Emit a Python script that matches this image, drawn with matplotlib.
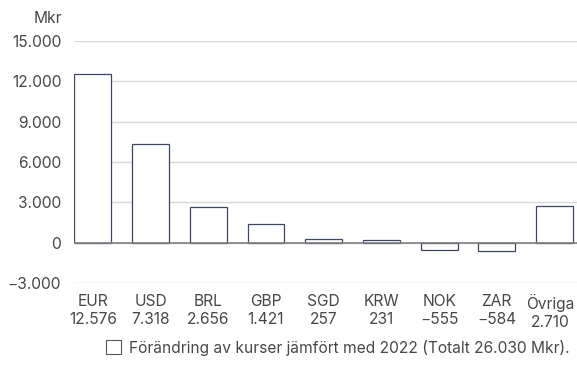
import matplotlib.pyplot as plt
import matplotlib.transforms as mtransforms
from matplotlib.patches import Patch

# Data
valutor = ["EUR", "USD", "BRL", "GBP", "SGD", "KRW", "NOK", "ZAR", "Övriga"]
belopp = [12576, 7318, 2656, 1421, 257, 231, -555, -584, 2710]
belopp_text = ["12.576", "7.318", "2.656", "1.421", "257", "231", "\u2212555", "\u2212584", "2.710"]
y_ticks = [-3000, 0, 3000, 6000, 9000, 12000, 15000]
y_labels = ["\u22123.000", "0", "3.000", "6.000", "9.000", "12.000", "15.000"]

plt.rcParams["font.family"] = ["Inter", "DejaVu Sans"]
text_color = "#474747"
edge_color = "#3d4763"
fs = 11.2

fig = plt.figure(figsize=(5.77, 3.66), dpi=100)
ax = fig.add_axes([0.128, 0.2268, 0.872, 0.6612])

x = list(range(len(valutor)))
ax.bar(x, belopp, width=0.64, color="white", edgecolor=edge_color, linewidth=0.9, zorder=3)

ax.set_ylim(-3000, 15000)
ax.set_xlim(-0.33, 8.39)
ax.set_yticks(y_ticks)
ax.set_yticklabels(y_labels)
ax.yaxis.grid(True, color="#d9d9d9", linewidth=1.0, zorder=0)
ax.axhline(0, color="#7f7f7f", linewidth=1.2, zorder=4)

ax.set_xticks(x)
ax.set_xticklabels([f"{v}\n{t}" for v, t in zip(valutor, belopp_text)], linespacing=1.2)

ax.tick_params(axis="both", length=0, labelsize=fs, labelcolor=text_color)
ax.tick_params(axis="y", pad=9)
ax.tick_params(axis="x", pad=8)
for s in ax.spines.values():
    s.set_visible(False)

# flytta "Övriga" lite åt vänster så att den inte klipps
sista = ax.xaxis.get_major_ticks()[-1].label1
sista.set_transform(sista.get_transform() + mtransforms.ScaledTranslation(-3 / 72, 0, fig.dpi_scale_trans))

fig.text(0.108, 0.95, "Mkr", ha="right", va="center", fontsize=fs, color=text_color)

handle = Patch(facecolor="white", edgecolor="#555555", linewidth=0.8)
fig.legend([handle], ["Förändring av kurser jämfört med 2022 (Totalt 26.030 Mkr)."],
           loc="center", bbox_to_anchor=(0.585, 0.05), frameon=False, fontsize=fs,
           labelcolor=text_color, handlelength=1.0, handleheight=1.0, handletextpad=0.5)

fig.savefig("out.png", dpi=100)
